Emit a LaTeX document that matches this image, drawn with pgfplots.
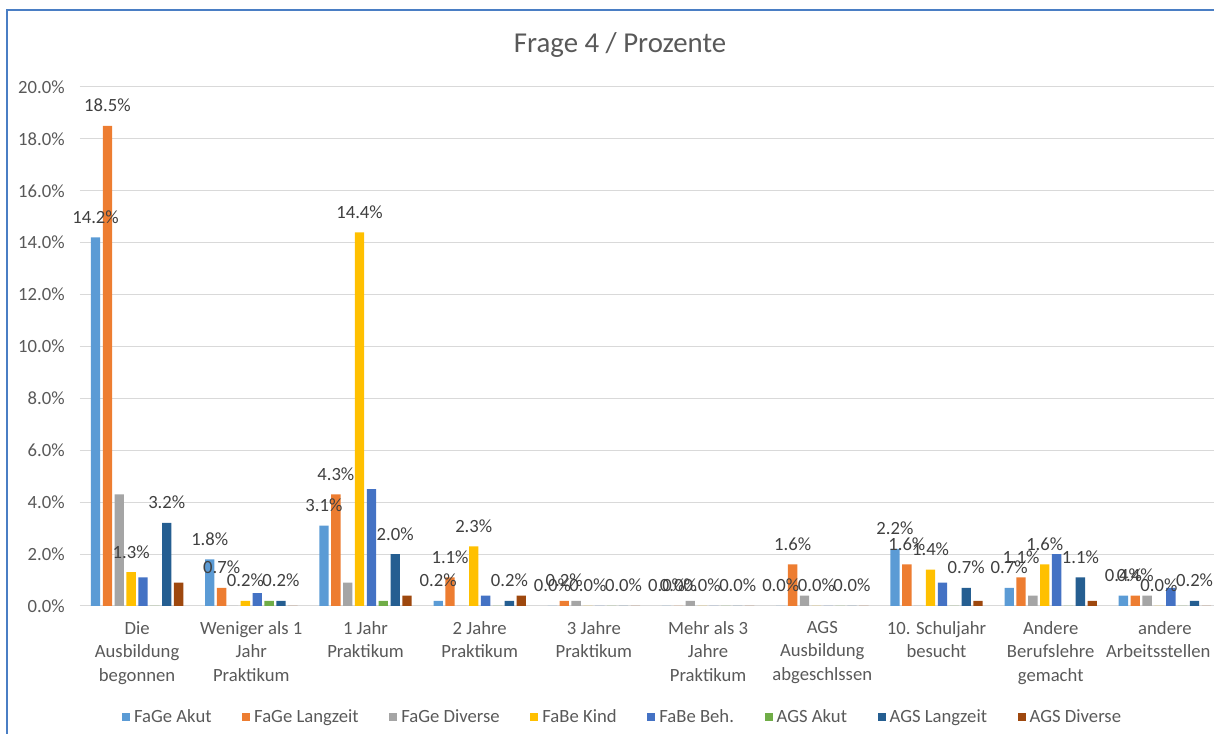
\documentclass[border=0pt]{standalone}
\usepackage{fontspec}
\setmainfont{Carlito}
\usepackage{pgfplots}
\usepackage{pgfplotstable}
\pgfplotsset{compat=1.18}

\definecolor{fgakut}{HTML}{5B9BD5}
\definecolor{fglang}{HTML}{ED7D31}
\definecolor{fgdiv}{HTML}{A5A5A5}
\definecolor{fbkind}{HTML}{FFC000}
\definecolor{fbbeh}{HTML}{4472C4}
\definecolor{agsakut}{HTML}{70AD47}
\definecolor{agslang}{HTML}{255E91}
\definecolor{agsdiv}{HTML}{9E480E}
\definecolor{txtgray}{HTML}{595959}
\definecolor{lblgray}{HTML}{404040}
\definecolor{gridgray}{HTML}{D9D9D9}
\definecolor{frameblue}{HTML}{4A7EC4}

% values in percent
\pgfplotstableread{
x akut lang div kind beh agsakut agslang agsdiv
0 14.2 18.5 4.3 1.3 1.1 0 3.2 0.9
1 1.8 0.7 0 0.2 0.5 0.2 0.2 0
2 3.1 4.3 0.9 14.4 4.5 0.2 2.0 0.4
3 0.2 1.1 0 2.3 0.4 0 0.2 0.4
4 0 0.2 0.2 0 0 0 0 0
5 0 0 0.2 0 0 0 0 0
6 0 1.6 0.4 0 0 0 0 0
7 2.2 1.6 0 1.4 0.9 0 0.7 0.2
8 0.7 1.1 0.4 1.6 2.0 0 1.1 0.2
9 0.4 0.4 0.4 0 0.7 0 0.2 0
}\data

\newcommand{\pct}[1]{\pgfmathprintnumber[fixed,fixed zerofill,precision=1,assume math mode=true]{#1}\%}

\begin{document}
\begin{tikzpicture}
\begin{axis}[
    scale only axis,
    width=856.5pt, height=389.25pt,
    ybar=1.9pt, bar width=7pt,
    xmin=-0.5, xmax=9.5,
    ymin=0, ymax=20,
    ytick={0,2,...,20},
    xtick={0,...,9},
    xticklabels={
      {Die\\Ausbildung\\begonnen},
      {Weniger als 1\\Jahr\\Praktikum},
      {1 Jahr\\Praktikum},
      {2 Jahre\\Praktikum},
      {3 Jahre\\Praktikum},
      {Mehr als 3\\Jahre\\Praktikum},
      {AGS\\Ausbildung\\abgeschlssen},
      {10. Schuljahr\\besucht},
      {Andere\\Berufslehre\\gemacht},
      {andere\\\hspace*{-10pt}Arbeitsstellen}},
    yticklabel={\pct{\tick}},
    axis line style={draw=none},
    major tick length=0pt,
    ymajorgrids,
    grid style={color=gridgray, line width=0.75pt},
    xticklabel style={font=\fontsize{14}{17.6}\selectfont, text=txtgray, align=center, yshift=-8pt},
    yticklabel style={font=\fontsize{14}{17.6}\selectfont, text=txtgray, xshift=-8pt},
    every node near coord/.append style={font=\fontsize{14}{17.6}\selectfont, text=lblgray, anchor=base, yshift=10.5pt},
    clip=false,
    legend columns=-1,
    legend image code/.code={\fill[#1] (0pt,-3pt) rectangle (6pt,3pt);},
    legend style={at={(0.476,-0.2139)}, anchor=center, draw=none, fill=none,
      font=\fontsize{14}{17.6}\selectfont, text=txtgray,
      /tikz/every even column/.append style={column sep=20pt},
      nodes={inner xsep=3pt}},
]
\addplot[fill=fgakut, draw=none, nodes near coords={\pct{\pgfplotspointmeta}}] table[x=x, y=akut] {\data};
\addplot[fill=fglang, draw=none, nodes near coords={\pct{\pgfplotspointmeta}}] table[x=x, y=lang] {\data};
\addplot[fill=fgdiv, draw=none] table[x=x, y=div] {\data};
\addplot[fill=fbkind, draw=none, nodes near coords={\pct{\pgfplotspointmeta}}] table[x=x, y=kind] {\data};
\addplot[fill=fbbeh, draw=none] table[x=x, y=beh] {\data};
\addplot[fill=agsakut, draw=none] table[x=x, y=agsakut] {\data};
\addplot[fill=agslang, draw=none, nodes near coords={\pct{\pgfplotspointmeta}}] table[x=x, y=agslang] {\data};
\addplot[fill=agsdiv, draw=none] table[x=x, y=agsdiv] {\data};
\legend{FaGe Akut, FaGe Langzeit, FaGe Diverse, FaBe Kind, FaBe Beh., AGS Akut, AGS Langzeit, AGS Diverse}

\node[font=\fontsize{21.6}{26}\selectfont, text=txtgray] at (rel axis cs:0.4729,1.081) {Frage 4 / Prozente};
\draw[color=frameblue, line width=1.5pt] (rel axis cs:-0.0639,-0.4) -- (rel axis cs:-0.0639,1.1484) -- (rel axis cs:1.1,1.1484);
\coordinate (bbl) at (rel axis cs:-0.07005,-0.2466);
\coordinate (btr) at (rel axis cs:0.99299,1.1676);
\end{axis}
\pgfresetboundingbox
\path[use as bounding box] (bbl) rectangle (btr);
\end{tikzpicture}
\end{document}
